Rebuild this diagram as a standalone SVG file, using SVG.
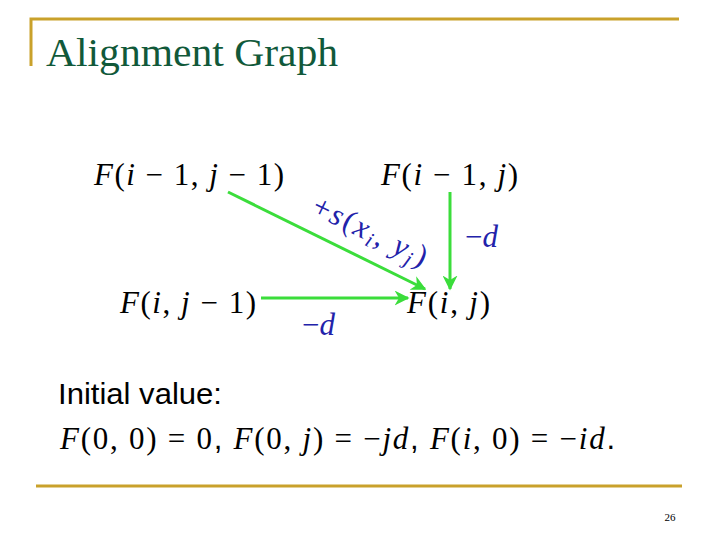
<svg xmlns="http://www.w3.org/2000/svg" width="720" height="540" viewBox="0 0 720 540">
<defs>
<style>
.gold{stroke:#C9A12B;stroke-width:3;fill:none}
.title{font-family:"Liberation Serif",serif;font-size:41px;fill:#11593A}
.m{font-family:"Liberation Serif",serif;font-size:31px;fill:#000}
.lbl{font-family:"Liberation Serif",serif;font-size:31px;fill:#2222AA}
.i{font-style:italic}
.sans{font-family:"Liberation Sans",sans-serif;font-size:29px;fill:#000}
.edge{stroke:#3BDD3B;stroke-width:3;fill:none;marker-end:url(#ah)}
</style>
<marker id="ah" viewBox="0 0 10 10" refX="9" refY="5" markerWidth="5" markerHeight="5" orient="auto" markerUnits="strokeWidth">
<path d="M0,0 L10,5 L0,10 L3,5 Z" fill="#3BDD3B"/>
</marker>
</defs>
<rect width="720" height="540" fill="#fff"/>
<g id="frame">
<path class="gold" d="M31,66 V19 H679"/>
<path class="gold" d="M36,486 H682"/>
<text class="title" x="46" y="66" textLength="292" lengthAdjust="spacingAndGlyphs">Alignment Graph</text>
<text x="670" y="521" font-family="Liberation Serif,serif" font-size="11" text-anchor="middle" fill="#000">26</text>
</g>
<g id="connectors">
<line class="edge" x1="228" y1="192" x2="425" y2="289"/>
<line class="edge" x1="450" y1="192" x2="450" y2="289"/>
<line class="edge" x1="261" y1="298" x2="408" y2="298"/>
</g>
<g id="n-im1-jm1"><text class="m" x="94" y="185" textLength="190"><tspan class="i">F</tspan>(<tspan class="i">i</tspan> − 1, <tspan class="i">j</tspan> − 1)</text></g>
<g id="n-im1-j"><text class="m" x="381" y="185" textLength="137"><tspan class="i">F</tspan>(<tspan class="i">i</tspan> − 1, <tspan class="i">j</tspan>)</text></g>
<g id="n-i-jm1"><text class="m" x="120" y="313" textLength="136"><tspan class="i">F</tspan>(<tspan class="i">i</tspan>, <tspan class="i">j</tspan> − 1)</text></g>
<g id="n-i-j"><text class="m" x="407" y="313" textLength="83"><tspan class="i">F</tspan>(<tspan class="i">i</tspan>, <tspan class="i">j</tspan>)</text></g>
<g id="labels">
<text class="lbl" x="465" y="247" font-size="33">−<tspan class="i">d</tspan></text>
<text class="lbl" x="302" y="335" font-size="33">−<tspan class="i">d</tspan></text>
<text class="lbl" font-size="33" transform="translate(310,213) rotate(26)" textLength="124">+<tspan class="i">s</tspan>(<tspan class="i">x</tspan><tspan class="i" font-size="21" dy="5">i</tspan><tspan dy="-5">, </tspan><tspan class="i">y</tspan><tspan class="i" font-size="21" dy="5">j</tspan><tspan dy="-5">)</tspan></text>
</g>
<g id="initial">
<text class="sans" x="58" y="404" textLength="164" lengthAdjust="spacingAndGlyphs">Initial value:</text>
<text class="m" x="60" y="449" textLength="555"><tspan class="i">F</tspan>(0, 0) = 0<tspan font-family="Liberation Sans,sans-serif">,</tspan> <tspan class="i">F</tspan>(0, <tspan class="i">j</tspan>) = −<tspan class="i">jd</tspan><tspan font-family="Liberation Sans,sans-serif">,</tspan> <tspan class="i">F</tspan>(<tspan class="i">i</tspan>, 0) = −<tspan class="i">id</tspan><tspan font-family="Liberation Sans,sans-serif">.</tspan></text>
</g>
</svg>
